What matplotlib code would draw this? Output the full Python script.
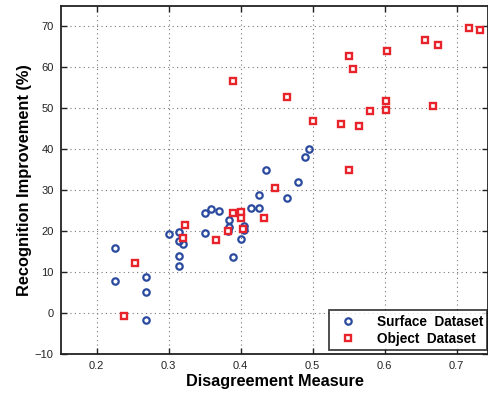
import matplotlib
matplotlib.use("Agg")
import matplotlib.pyplot as plt

plt.rcParams['font.family'] = ['Liberation Sans', 'DejaVu Sans']

surface_x = [0.225, 0.225, 0.269, 0.269, 0.269, 0.300, 0.315, 0.315, 0.320, 0.315,
             0.315, 0.350, 0.359, 0.370, 0.350, 0.384, 0.384, 0.383, 0.390, 0.400,
             0.405, 0.405, 0.414, 0.425, 0.425, 0.435, 0.465, 0.480, 0.489, 0.495]
surface_y = [15.9, 7.7, 8.8, 5.2, -1.6, 19.3, 19.8, 17.6, 16.8, 13.8,
             11.4, 24.3, 25.3, 25.0, 19.4, 22.6, 21.0, 20.0, 13.7, 18.0,
             21.3, 20.2, 25.5, 25.5, 28.9, 35.0, 28.1, 32.0, 38.0, 40.1]

object_x = [0.238, 0.254, 0.323, 0.320, 0.366, 0.389, 0.401, 0.401, 0.383, 0.404,
            0.433, 0.448, 0.390, 0.501, 0.464, 0.539, 0.564, 0.550, 0.550, 0.556,
            0.580, 0.602, 0.602, 0.604, 0.656, 0.674, 0.668, 0.718, 0.732]
object_y = [-0.7, 12.1, 21.5, 18.4, 17.7, 24.5, 24.7, 23.1, 20.0, 20.6,
            23.1, 30.4, 56.7, 46.9, 52.6, 46.2, 45.7, 34.8, 62.6, 59.5,
            49.3, 51.6, 49.4, 64.0, 66.5, 65.4, 50.5, 69.5, 69.1]

xticks = [0.2, 0.3, 0.4, 0.5, 0.6, 0.7]
yticks = [-10, 0, 10, 20, 30, 40, 50, 60, 70]

fig = plt.figure(figsize=(4.88, 3.95), dpi=100)
ax = fig.add_axes([60.5/488, 41/395, 428/488, 348.5/395])

ax.plot(surface_x, surface_y, linestyle='none', marker='o', markersize=4.6,
        markerfacecolor='none', markeredgecolor='#2a4a9f', markeredgewidth=1.6,
        label='Surface  Dataset')
ax.plot(object_x, object_y, linestyle='none', marker='s', markersize=3.8,
        markerfacecolor='white', markeredgecolor='#e8232b', markeredgewidth=1.7,
        label='Object  Dataset')

ax.set_xlim(0.15, 0.7444)
ax.set_ylim(-10, 75)
ax.set_xticks(xticks)
ax.set_yticks(yticks)
ax.set_xticklabels(['0.2', '0.3', '0.4', '0.5', '0.6', '0.7'])
ax.set_yticklabels(['\u221210', '0', '10', '20', '30', '40', '50', '60', '70'])
ax.tick_params(direction='in', top=True, right=True, length=4, width=1,
               labelsize=8, colors='#222222', pad=5)
ax.grid(True, linestyle=(0, (1, 3)), color='#777777', linewidth=0.8)
for s in ax.spines.values():
    s.set_linewidth(1.3)
    s.set_color('#222222')

ax.set_xlabel('Disagreement Measure', fontsize=11.7, fontweight='bold', labelpad=2)
ax.set_ylabel('Recognition Improvement (%)', fontsize=11.8, fontweight='bold', labelpad=2)

leg = ax.legend(loc='lower right', fontsize=9.8, frameon=True, fancybox=False,
                edgecolor='#111111', bbox_to_anchor=(487/488, 45/395),
                bbox_transform=fig.transFigure, borderaxespad=0,
                handletextpad=1.0, handlelength=2.2,
                borderpad=0.3, labelspacing=0.25)
leg.get_frame().set_linewidth(1.3)
for t in leg.get_texts():
    t.set_fontweight('bold')

fig.savefig('out.png', dpi=100, facecolor='white')
